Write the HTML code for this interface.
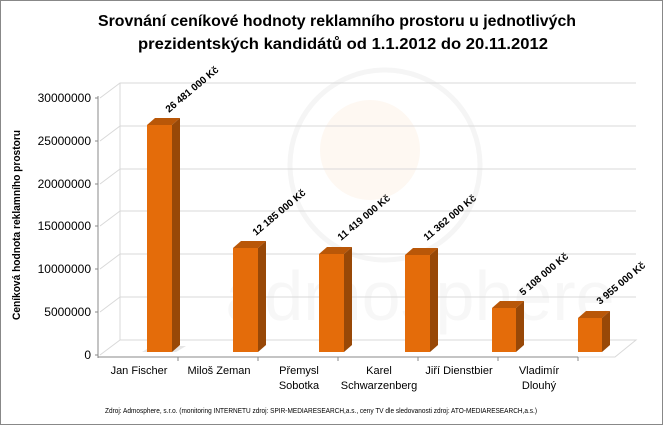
<!DOCTYPE html>
<html><head><meta charset="utf-8"><style>
body{margin:0;background:#fff}
svg{display:block;font-family:"Liberation Sans",sans-serif}
</style></head><body>
<svg width="663" height="425" viewBox="0 0 663 425">
<rect x="0.5" y="0.5" width="662" height="424" fill="#fff" stroke="#888"/>
<circle cx="385" cy="165" r="95" fill="none" stroke="#f5f5f5" stroke-width="5"/>
<circle cx="370" cy="150" r="50" fill="#fef8f2"/>
<text x="420" y="320" font-size="70" fill="#f7f7f7" text-anchor="middle">admosphere</text>
<text x="337" y="26" font-size="16" font-weight="bold" text-anchor="middle" textLength="478" lengthAdjust="spacingAndGlyphs">Srovnání ceníkové hodnoty reklamního prostoru u jednotlivých</text>
<text x="343" y="49" font-size="16" font-weight="bold" text-anchor="middle" textLength="410" lengthAdjust="spacingAndGlyphs">prezidentských kandidátů od 1.1.2012 do 20.11.2012</text>
<g stroke="#d9d9d9" stroke-width="1" fill="none">
<path d="M100 98 L120 83 H636"/>
<path d="M100 141 L120 126 H636"/>
<path d="M100 184 L120 169 H636"/>
<path d="M100 226 L120 211 H636"/>
<path d="M100 269 L120 254 H636"/>
<path d="M100 312 L120 297 H636"/>
<path d="M100 355 L120 340 H636 L615 357 H100"/>
<path d="M120 83 V340"/>
</g>
<g stroke="#888" stroke-width="1">
<line x1="98" y1="96" x2="98" y2="358"/>
<line x1="98" y1="357" x2="578" y2="357"/>
<line x1="95" y1="98" x2="98" y2="98"/><line x1="95" y1="141" x2="98" y2="141"/>
<line x1="95" y1="184" x2="98" y2="184"/><line x1="95" y1="226" x2="98" y2="226"/>
<line x1="95" y1="269" x2="98" y2="269"/><line x1="95" y1="312" x2="98" y2="312"/>
<line x1="95" y1="355" x2="98" y2="355"/>
<line x1="178" y1="357" x2="178" y2="361"/><line x1="258" y1="357" x2="258" y2="361"/>
<line x1="338" y1="357" x2="338" y2="361"/><line x1="418" y1="357" x2="418" y2="361"/>
<line x1="498" y1="357" x2="498" y2="361"/><line x1="578" y1="357" x2="578" y2="361"/>
</g>
<g font-size="12" text-anchor="end" fill="#000">
<text x="91" y="102">30000000</text><text x="91" y="145">25000000</text>
<text x="91" y="188">20000000</text><text x="91" y="230">15000000</text>
<text x="91" y="273">10000000</text><text x="91" y="316">5000000</text>
<text x="91" y="359">0</text>
</g>
<text transform="translate(20,225) rotate(-90)" font-size="11" font-weight="bold" text-anchor="middle" textLength="190" lengthAdjust="spacingAndGlyphs">Ceníková hodnota  reklamního prostoru</text>
<g>
<polygon points="142,352 176,352 186,346 152,346" fill="#ccc" opacity=".5"/>
<rect x="147" y="125" width="25" height="227" fill="#e46c0a"/>
<polygon points="147,125 155,118 180,118 172,125" fill="#b95708"/>
<polygon points="172,125 180,118 180,345 172,352" fill="#984807"/>
<rect x="233" y="248" width="25" height="104" fill="#e46c0a"/>
<polygon points="233,248 241,241 266,241 258,248" fill="#b95708"/>
<polygon points="258,248 266,241 266,345 258,352" fill="#984807"/>
<rect x="319" y="254" width="25" height="98" fill="#e46c0a"/>
<polygon points="319,254 327,247 352,247 344,254" fill="#b95708"/>
<polygon points="344,254 352,247 352,345 344,352" fill="#984807"/>
<rect x="405" y="255" width="25" height="97" fill="#e46c0a"/>
<polygon points="405,255 413,248 438,248 430,255" fill="#b95708"/>
<polygon points="430,255 438,248 438,345 430,352" fill="#984807"/>
<rect x="492" y="308" width="24" height="44" fill="#e46c0a"/>
<polygon points="492,308 500,301 524,301 516,308" fill="#b95708"/>
<polygon points="516,308 524,301 524,345 516,352" fill="#984807"/>
<rect x="578" y="318" width="24" height="34" fill="#e46c0a"/>
<polygon points="578,318 586,311 610,311 602,318" fill="#b95708"/>
<polygon points="602,318 610,311 610,345 602,352" fill="#984807"/>
</g>
<g font-size="10" font-weight="bold" fill="#000">
<text transform="translate(169,113) rotate(-40)">26 481 000 Kč</text>
<text transform="translate(256,236) rotate(-40)">12 185 000 Kč</text>
<text transform="translate(341,241) rotate(-40)">11 419 000 Kč</text>
<text transform="translate(427,241) rotate(-40)">11 362 000 Kč</text>
<text transform="translate(523,296) rotate(-40)">5 108 000 Kč</text>
<text transform="translate(600,305) rotate(-40)">3 955 000 Kč</text>
</g>
<g font-size="11" text-anchor="middle" fill="#000">
<text x="139" y="374">Jan Fischer</text>
<text x="219" y="374">Miloš Zeman</text>
<text x="299" y="374">Přemysl</text><text x="299" y="389">Sobotka</text>
<text x="379" y="374">Karel</text><text x="379" y="389">Schwarzenberg</text>
<text x="459" y="374">Jiří Dienstbier</text>
<text x="539" y="374">Vladimír</text><text x="539" y="389">Dlouhý</text>
</g>
<text x="105" y="413" font-size="7" textLength="432" lengthAdjust="spacingAndGlyphs">Zdroj: Admosphere, s.r.o. (monitoring  INTERNETU zdroj: SPIR-MEDIARESEARCH,a.s., ceny TV dle sledovanosti zdroj: ATO-MEDIARESEARCH,a.s.)</text>
</svg>
</body></html>
